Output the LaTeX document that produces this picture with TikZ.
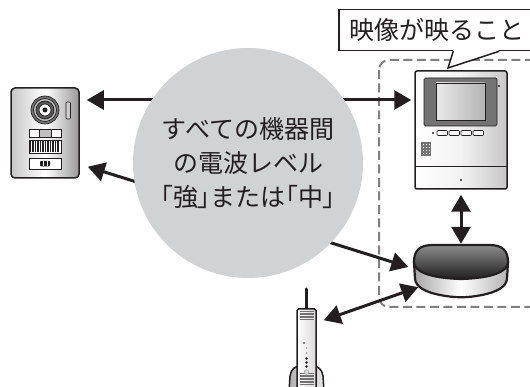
\documentclass[tikz,border=0pt]{standalone}
\usepackage{fontspec}
\usepackage{xcolor}
\usepackage{tikz}
\usetikzlibrary{arrows.meta}
\setmainfont{Noto Sans CJK JP}
\newfontfamily\jpalt[RawFeature=+palt]{Noto Sans CJK JP}

\definecolor{ink}{HTML}{231F20}
\definecolor{bubble}{HTML}{D1D2D4}
\definecolor{dashgray}{HTML}{808080}

\tikzset{
  link/.style={draw=ink, line width=3pt, >={Triangle[length=17pt,width=19pt]}, <->},
  unit/.style={draw=ink, line width=1.5pt, inner sep=0pt},
  metal/.style={left color=black!22, right color=black!40, middle color=white},
  plastic/.style={left color=white, right color=black!22, middle color=black!5},
  part/.style={draw=ink, line width=0.7pt},
  mesh/.style={black!55, line width=0.45pt},
}

\begin{document}
\begin{tikzpicture}[x=1pt, y=-1pt]
				\useasboundingbox (0,0) rectangle (530,387);
				
				% 虚线框 (监视器 + 中继器)
				\draw[dashgray, line width=2pt, dash pattern=on 9pt off 4.5pt, rounded corners=10pt] (379,60) rectangle (545,307);
				
				% 门口机
				\node[unit, rounded corners=4pt, minimum width=68pt, minimum height=90pt, metal] (door) at (45,133) {};
				\filldraw[part, fill=black!55] (45,110) circle (14pt);
				\filldraw[part, fill=black!25] (45,110) circle (11.5pt);
				\filldraw[part, fill=black!65] (45,110) circle (9pt);
				\filldraw[part, fill=white] (45,110) circle (6pt);
				\fill[ink] (45,110) circle (2.5pt);
				\filldraw[part, fill=black!20, rounded corners=1pt] (66,102) rectangle (70.5,119);
				\filldraw[part, fill=white] (29,129) rectangle (39,137);
				\filldraw[part, fill=black!25] (39,129) rectangle (51,137);
				\filldraw[part, fill=white] (51,129) rectangle (61,137);
				\filldraw[part, fill=white] (29,140) rectangle (61,153);
				\foreach \x in {30.5,33,...,60}
				\draw[ink, line width=1.3pt] (\x,140.5) -- (\x,152.5);
				\filldraw[part, fill=white] (29,158) rectangle (61,169);
				\fill[ink, rounded corners=1pt] (40,161) rectangle (50,166.5);
				\draw[white, line width=0.6pt] (43,161) -- (43,166.5) (47,161) -- (47,166.5);
				
				% 室内监视器
				\node[unit, rounded corners=2pt, minimum width=92pt, minimum height=118pt, plastic] (monitor) at (461,130) {};
				\draw[ink, line width=1pt] (415,167) -- (507,167);
				\filldraw[part, fill=black!55, rounded corners=1.5pt] (424,78) rectangle (497,126);
				\filldraw[part, left color=black!8, right color=black!30] (436,83) rectangle (485,120);
				\fill[ink] (433,133) circle (1.2pt);
				\foreach \i in {0,1,2,3}
				\filldraw[draw=ink, line width=0.6pt, fill=white, rounded corners=1pt] ({437+12*\i},130.5) rectangle +(10.5,5);
				\foreach \x in {421,422.5,...,431}
				\draw[mesh] (\x,142) -- (\x,156);
				\foreach \y in {142,143.5,...,156}
				\draw[mesh] (421,\y) -- (431,\y);
				\fill[ink] (499,86) circle (1.2pt);
				\fill[ink] (461,180) circle (1.2pt);
				
				% 中继器
				\node[inner sep=0pt, minimum width=94pt, minimum height=54pt] (router) at (461,271) {};
				\filldraw[draw=ink, line width=2.2pt, left color=black!35, right color=black!30, middle color=white] (414,262) -- (415,279) .. controls (416,287) and (425,292) .. (440,295) .. controls (455,298) and (467,298) .. (482,295) .. controls (497,292) and (506,287) .. (507,279) -- (508,262) -- cycle;
				\filldraw[draw=ink, line width=2.2pt, top color=black!45, bottom color=black!88] (414,262) .. controls (414,250) and (420,245) .. (433,245) -- (489,245) .. controls (502,245) and (508,250) .. (508,262) .. controls (508,271) and (494,278) .. (461,279) .. controls (428,278) and (414,271) .. (414,262) -- cycle;
				
				% 子机和充电座
				\filldraw[draw=ink, line width=1.5pt, left color=black!30, right color=black!10] (289,392) -- (290,376) .. controls (291,369) and (295,366) .. (301,366) -- (312,366) .. controls (318,366) and (322,369) .. (323,376) -- (324,392);
				\draw[ink, line width=3pt, line cap=round] (306.5,289) -- (306.5,309);
				\node[unit, rounded corners=1.5pt, minimum width=19pt, minimum height=84pt, left color=white, right color=black!15] (handset) at (306.5,351) {};
				\foreach \y in {311.5,313,...,320}
				\draw[mesh] (299.5,\y) -- (313.5,\y);
				\foreach \y in {373.5,375,...,384}
				\draw[mesh] (299.5,\y) -- (313.5,\y);
				\fill[ink] (304,343) circle (0.9pt);
				\foreach \y in {348,353}
				\fill[ink] (306.5,\y) circle (0.5pt);
				\foreach \y in {358.5,362.5,366.5}
				\fill[ink] (306.5,\y) circle (1.4pt);
				\filldraw[black!40, fill=black!15, line width=0.4pt] (306.5,372) circle (2.3pt);
				
				% 无线连接
				\draw[link, shorten <=7pt, shorten >=3pt] (door.east |- 0,100) -- (monitor.west |- 0,100);
				\draw[link] ([shift={(8,-12)}]door.south east) -- ([shift={(-5.5,-4)}]router.west);
				\draw[link] ([yshift=-5pt]monitor.south) -- (router.north);
				\draw[link] ([shift={(7,12)}]handset.north east) -- ([shift={(4.5,-11)}]router.south west);
				
				% 中央的圆
				\node[circle, fill=bubble, minimum size=230pt, inner sep=0pt, align=center, text=ink, font=\fontsize{25}{34}\selectfont] (level) at (248,163)
				{すべての機器間\\の電波レベル\\{\jpalt 「}強{\jpalt 」}または{\jpalt 「}中{\jpalt 」}};
				
				% 对话框
				\node[draw=ink, line width=1.5pt, fill=white, inner sep=0pt, minimum width=196pt, minimum height=41pt, text=ink, font=\fontsize{25}{30}\selectfont] (note) at (437,30) {映像が映ること};
				\coordinate (tip) at (448,68);
				\fill[white] ([shift={(115,-1)}]note.south west) -- (tip) -- ([shift={(161,-1)}]note.south west) -- cycle;
				\draw[ink, line width=1.5pt] ([xshift=115pt]note.south west) -- (tip) -- ([xshift=161pt]note.south west);
				
\end{tikzpicture}
\end{document}
